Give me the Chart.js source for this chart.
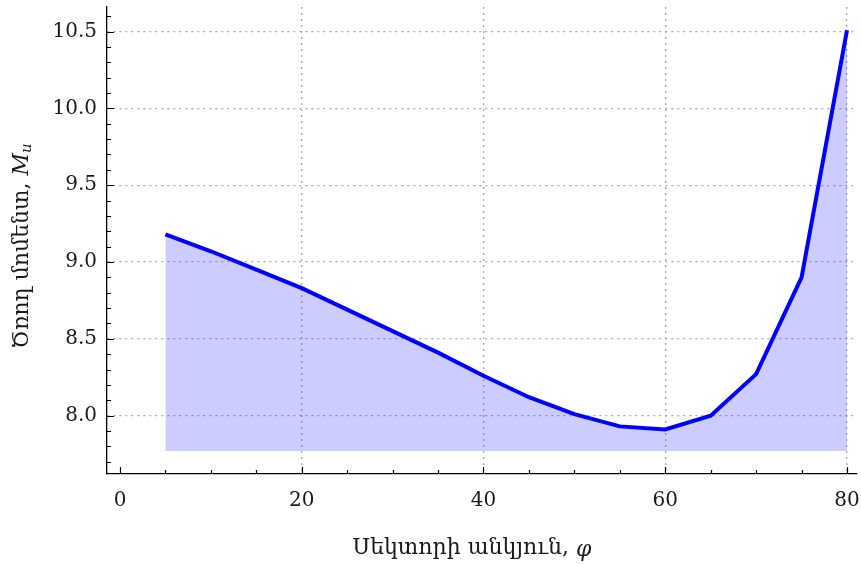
<!DOCTYPE html>
<html>
<head>
<meta charset="utf-8">
<script src="https://cdn.jsdelivr.net/npm/chart.js@4"></script>
<style>
  body { margin: 0; background: #fff; }
  #wrap { width: 861px; height: 564px; }
</style>
</head>
<body>
<div id="wrap"><canvas id="myChart"></canvas></div>
<script>
// data
const angles = [5, 10, 15, 20, 25, 30, 35, 40, 45, 50, 55, 60, 65, 70, 75, 80]
const moment = [9.18, 9.07, 8.95, 8.83, 8.69, 8.55, 8.41, 8.26, 8.12, 8.01, 7.93, 7.91, 8.00, 8.27, 8.90, 10.51]
const xTicks = [0, 20, 40, 60, 80]
const yTicks = [8.0, 8.5, 9.0, 9.5, 10.0, 10.5]
const fillBase = 7.77

const xTitle = 'Սեկտորի անկյուն, '
const xTitleSym = 'φ'
const yTitle = 'Ծռող մոմենտ, '

const FONT = '"DejaVu Serif", "Liberation Serif", serif'

// inward ticks (major + minor) and axis titles
const framePlugin = {
  id: 'frame',
  afterDraw(chart) {
    let ctx = chart.ctx
    let xs = chart.scales.x
    let ys = chart.scales.y
    let {left, bottom} = chart.chartArea

    ctx.save()
    ctx.strokeStyle = '#000'
    ctx.lineWidth = 1.2
    ctx.beginPath()
    for (let v = 0; v <= 80; v += 5) {
      let px = Math.round(xs.getPixelForValue(v)) + 0.5
      let len = v % 20 === 0 ? 7 : 4
      ctx.moveTo(px, bottom)
      ctx.lineTo(px, bottom - len)
    }
    for (let k = 77; k <= 106; k++) {
      let py = Math.round(ys.getPixelForValue(k / 10)) + 0.5
      let len = k % 5 === 0 ? 7 : 4
      ctx.moveTo(left, py)
      ctx.lineTo(left + len, py)
    }
    ctx.stroke()

    // x title
    ctx.fillStyle = '#1a1a1a'
    ctx.textBaseline = 'middle'
    ctx.font = '22px ' + FONT
    let w1 = ctx.measureText(xTitle).width
    ctx.font = 'italic 22px ' + FONT
    let w2 = ctx.measureText(xTitleSym).width
    let x0 = 472 - (w1 + w2) / 2
    ctx.font = '22px ' + FONT
    ctx.textAlign = 'left'
    ctx.fillText(xTitle, x0, 548)
    ctx.font = 'italic 22px ' + FONT
    ctx.fillText(xTitleSym, x0 + w1, 550)

    // y title, rotated
    ctx.translate(22, 246)
    ctx.rotate(-Math.PI / 2)
    ctx.font = '22px ' + FONT
    let a = ctx.measureText(yTitle).width
    ctx.font = 'italic 22px ' + FONT
    let b = ctx.measureText('M').width
    ctx.font = 'italic 15px ' + FONT
    let c = ctx.measureText('u').width
    let s = -(a + b + c) / 2
    ctx.font = '22px ' + FONT
    ctx.fillText(yTitle, s, 0)
    ctx.font = 'italic 22px ' + FONT
    ctx.fillText('M', s + a, 0)
    ctx.font = 'italic 15px ' + FONT
    ctx.fillText('u', s + a + b, 5)
    ctx.restore()
  }
}

// drop the automatic label-overflow padding so the plot box is exact
function noPad(s) {
  s.paddingTop = 0
  s.paddingBottom = 0
  s.paddingLeft = 0
  s.paddingRight = 0
}

let ctx = document.getElementById('myChart').getContext('2d')
let myLineChart = new Chart(ctx, {
  type: 'line',
  data: {
    datasets: [{
      data: angles.map((a, i) => ({x: a, y: moment[i]})),
      borderColor: '#0000ff',
      borderWidth: 4,
      backgroundColor: 'rgba(0, 0, 255, 0.2)',
      fill: {value: fillBase},
      pointRadius: 0,
      tension: 0
    }]
  },
  options: {
    responsive: true,
    maintainAspectRatio: false,
    animation: false,
    layout: {padding: {top: 7, right: 4, left: 0, bottom: 0}},
    plugins: {legend: {display: false}, tooltip: {enabled: false}},
    scales: {
      x: {
        type: 'linear',
        min: -1.43,
        max: 81.1,
        afterBuildTicks: (s) => { s.ticks = xTicks.map(v => ({value: v})) },
        afterFit: (s) => { s.height = 90; noPad(s) },
        ticks: {
          font: {family: FONT, size: 20},
          color: '#1a1a1a',
          padding: 15,
          maxRotation: 0,
          callback: (v) => String(v)
        },
        grid: {
          drawTicks: false,
          color: (c) => (c.tick && c.tick.value === 0) ? 'rgba(0,0,0,0)' : '#aaa',
          lineWidth: 1.3
        },
        border: {color: '#000', width: 1.3, dash: [2, 4]}
      },
      y: {
        min: 7.62,
        max: 10.66,
        afterBuildTicks: (s) => { s.ticks = yTicks.map(v => ({value: v})) },
        afterFit: (s) => { s.width = 107; noPad(s) },
        ticks: {
          font: {family: FONT, size: 20},
          color: '#1a1a1a',
          padding: 10,
          callback: (v) => v.toFixed(1)
        },
        grid: {
          drawTicks: false,
          color: '#aaa',
          lineWidth: 1.3
        },
        border: {color: '#000', width: 1.3, dash: [2, 4]}
      }
    }
  },
  plugins: [framePlugin]
})
</script>
</body>
</html>
